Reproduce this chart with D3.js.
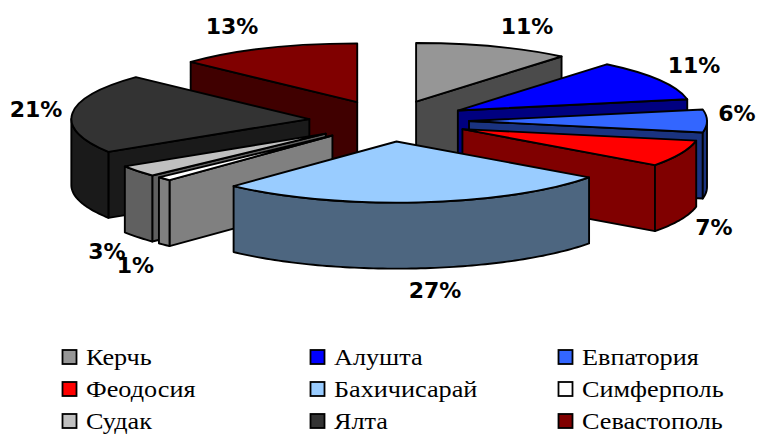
<!DOCTYPE html>
<html>
<head>
<meta charset="utf-8">
<script src="https://cdn.jsdelivr.net/npm/d3@7"></script>
<style>
    html, body { margin: 0; padding: 0; background: #fff; }
    svg { display: block; }
</style>
</head>
<body>
<svg></svg>
<script>
// Dati del grafico
const cities = ["Керчь", "Алушта", "Евпатория", "Феодосия", "Бахичисарай", "Симферполь", "Судак", "Ялта", "Севастополь"];
const shares = [11, 11, 6, 7, 27, 1, 3, 21, 13];
const topColors = ["#969696", "#0000ff", "#3366ff", "#ff0000", "#99ccff", "#ffffff", "#c0c0c0", "#333333", "#800000"];
const sideColors = ["#4b4b4b", "#000080", "#1a3380", "#800000", "#4d6680", "#808080", "#606060", "#1a1a1a", "#400000"];

const width = 759;
const height = 434;
const cx = 389;
const cy = 121;
const baseRadius = 238;
const tilt = 0.257;
const depth = 66;
const explode = 80;

// ordine di disegno, dal fondo verso il davanti
const drawOrder = [8, 0, 1, 2, 3, 7, 6, 5, 4];
const labelPos = [[527, 26], [694, 65], [737, 113], [714, 227], [435, 290], [135.5, 265], [107, 251], [36, 109], [232, 26]];

const svg = d3.select("svg")
    .attr("width", width)
    .attr("height", height);

const pie = d3.pie().sort(null);
const slices = pie(shares);
const line = d3.line();

function tipOf(d) {
    const mid = (d.startAngle + d.endAngle) / 2;
    return [cx + explode * Math.sin(mid), cy - explode * tilt * Math.cos(mid)];
}

// le fette piu' lontane appaiono un po' piu' piccole
function radiusAt(tip) {
    return baseRadius - Math.max(0, 118 - tip[1]) * 0.6;
}

function edge(tip, r, a) {
    return [tip[0] + r * Math.sin(a), tip[1] - r * tilt * Math.cos(a)];
}

// faccia radiale: tip -> bordo, poi giu' di depth
function radialFace(tip, r, a) {
    const p = edge(tip, r, a);
    return line([tip, p, [p[0], p[1] + depth], [tip[0], tip[1] + depth]]) + "Z";
}

// bordo esterno visibile (solo la parte anteriore)
function rimFace(tip, r, a0, a1) {
    const angles = d3.range(a0, a1, 0.02).concat([a1]);
    const upper = angles.map(a => edge(tip, r, a));
    const lower = upper.map(p => [p[0], p[1] + depth]).reverse();
    return line(upper.concat(lower)) + "Z";
}

const pieGroup = svg.append("g")
    .attr("stroke", "#000")
    .attr("stroke-width", 1.9)
    .attr("stroke-linejoin", "round");

drawOrder.forEach(function(i) {
    const d = slices[i];
    const tip = tipOf(d);
    const r = radiusAt(tip);
    const g = pieGroup.append("g");

    // facce laterali
    if (d.startAngle > Math.PI) {
        g.append("path").attr("d", radialFace(tip, r, d.startAngle)).attr("fill", sideColors[i]);
    }
    if (d.endAngle < Math.PI) {
        g.append("path").attr("d", radialFace(tip, r, d.endAngle)).attr("fill", sideColors[i]);
    }
    const a0 = Math.max(d.startAngle, Math.PI / 2);
    const a1 = Math.min(d.endAngle, Math.PI * 1.5);
    if (a1 > a0) {
        g.append("path").attr("d", rimFace(tip, r, a0, a1)).attr("fill", sideColors[i]);
    }

    // faccia superiore
    const arc = d3.arc().innerRadius(0).outerRadius(r);
    g.append("path")
        .attr("d", arc(d))
        .attr("transform", `translate(${tip[0]},${tip[1]}) scale(1,${tilt})`)
        .attr("vector-effect", "non-scaling-stroke")
        .attr("fill", topColors[i]);
});

// etichette percentuali
svg.append("g")
    .selectAll("text")
    .data(shares)
    .enter()
    .append("text")
    .attr("x", (d, i) => labelPos[i][0])
    .attr("y", (d, i) => labelPos[i][1])
    .attr("dy", "0.36em")
    .attr("text-anchor", "middle")
    .attr("font-family", "DejaVu Sans")
    .attr("font-weight", "bold")
    .attr("font-size", 22)
    .attr("fill", "#000")
    .text(d => d + "%");

// legenda
const colX = d3.scalePoint().domain([0, 1, 2]).range([62, 558]);
const rowY = d3.scalePoint().domain([0, 1, 2]).range([357, 421]);

const legend = svg.append("g")
    .selectAll("g")
    .data(cities)
    .enter()
    .append("g")
    .attr("transform", (d, i) => `translate(${colX(i % 3)},${rowY(Math.floor(i / 3))})`);

legend.append("rect")
    .attr("x", 0.5)
    .attr("y", -7)
    .attr("width", 14)
    .attr("height", 14)
    .attr("fill", (d, i) => topColors[i])
    .attr("stroke", "#000")
    .attr("stroke-width", 1.8);

legend.append("text")
    .attr("transform", "translate(24,0) scale(1.14,1)")
    .attr("dy", "0.34em")
    .attr("font-family", "Liberation Serif")
    .attr("font-size", 23)
    .attr("fill", "#000")
    .text(d => d);
</script>
</body>
</html>
